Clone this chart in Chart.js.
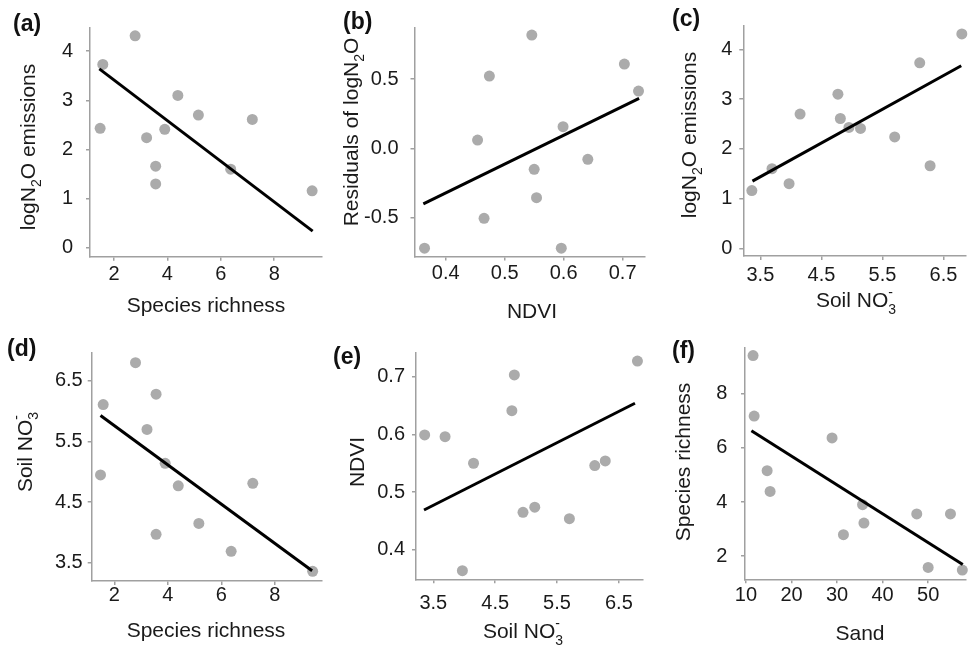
<!DOCTYPE html>
<html>
<head>
<meta charset="utf-8">
<script src="https://cdn.jsdelivr.net/npm/chart.js@4.4.1/dist/chart.umd.min.js"></script>
<style>
html, body { margin: 0; padding: 0; background: #fff; overflow: hidden; }
#wrap { position: relative; width: 971px; height: 646px; }
canvas { position: absolute; left: 0; top: 0; }
</style>
</head>
<body>
<div id="wrap"></div>
<script>
// values for the 12 sites
const species  = [1.48, 1.58, 2.79, 3.22, 3.56, 3.56, 3.90, 4.39, 5.16, 6.37, 7.18, 9.42];
const logN2O   = [2.43, 3.73, 4.31, 2.24, 1.66, 1.30, 2.41, 3.10, 2.70, 1.60, 2.61, 1.16];
const soilNO3  = [4.95, 6.11, 6.80, 5.70, 6.28, 3.97, 5.14, 4.77, 4.15, 3.69, 4.81, 3.36];
const ndvi     = [0.465, 0.546, 0.727, 0.454, 0.554, 0.364, 0.474, 0.641, 0.550, 0.596, 0.703, 0.599];
const residN2O = [-0.505, 0.817, 0.413, 0.06, -0.356, -0.72, 0.521, -0.079, -0.151, -0.72, 0.608, 0.156];
const sand     = [57.5, 50.0, 31.4, 35.9, 47.5, 54.9, 35.6, 15.3, 14.65, 28.9, 11.8, 11.56];

// fitted lines (start, end)
const fitA = [{x: 1.45, y: 3.64}, {x: 9.44, y: 0.34}];
const fitB = [{x: 0.362, y: -0.40}, {x: 0.728, y: 0.36}];
const fitC = [{x: 3.37, y: 1.35}, {x: 6.79, y: 3.67}];
const fitD = [{x: 1.48, y: 5.93}, {x: 9.40, y: 3.37}];
const fitE = [{x: 3.35, y: 0.469}, {x: 6.76, y: 0.654}];
const fitF = [{x: 11.2, y: 6.64}, {x: 57.6, y: 1.69}];

// ticks
const speciesTicks = [2, 4, 6, 8];
const speciesLabels = ['2', '4', '6', '8'];
const n2oTicks = [0, 1, 2, 3, 4];
const n2oLabels = ['0', '1', '2', '3', '4'];
const ndviXTicks = [0.4, 0.5, 0.6, 0.7];
const ndviXLabels = ['0.4', '0.5', '0.6', '0.7'];
const residTicks = [-0.5, 0, 0.5];
const residLabels = ['-0.5', '0.0', '0.5'];
const no3Ticks = [3.5, 4.5, 5.5, 6.5];
const no3Labels = ['3.5', '4.5', '5.5', '6.5'];
const ndviYTicks = [0.4, 0.5, 0.6, 0.7];
const ndviYLabels = ['0.4', '0.5', '0.6', '0.7'];
const sandTicks = [10, 20, 30, 40, 50];
const sandLabels = ['10', '20', '30', '40', '50'];
const richTicks = [2, 4, 6, 8];
const richLabels = ['2', '4', '6', '8'];

const W = 971, H = 646;
const FONT = '"Liberation Sans", Arial, sans-serif';
const AXIS = '#a0a0a0';
const DOT = '#ababab';

const tN2O = ['logN', {sub: '2'}, 'O emissions'];
const tNO3 = ['Soil NO', {sub: '3', sup: '-'}];

const panels = [
  {tag: '(a)', tagAt: [13, 31], xs: species, ys: logN2O, fit: fitA,
   area: [90, 28, 322, 256.7], xr: [1.10, 9.79], yr: [-0.18, 4.47],
   xt: speciesTicks, xl: speciesLabels, yt: n2oTicks, yl: n2oLabels, xPad: 2, yPad: 13,
   xTitle: ['Species richness'], xTitleAt: [206, 312], yTitle: tN2O, yTitleAt: [27, 147]},
  {tag: '(b)', tagAt: [343, 29], xs: ndvi, ys: residN2O, fit: fitB,
   area: [414.5, 28, 645, 256.5], xr: [0.347, 0.738], yr: [-0.78, 0.868],
   xt: ndviXTicks, xl: ndviXLabels, yt: residTicks, yl: residLabels, xPad: 1, yPad: 12,
   xTitle: ['NDVI'], xTitleAt: [532, 318], yTitle: ['Residuals of logN', {sub: '2'}, 'O'], yTitleAt: [350, 132]},
  {tag: '(c)', tagAt: [672, 26], xs: soilNO3, ys: logN2O, fit: fitC,
   area: [743.3, 26, 971, 256], xr: [3.22, 6.86], yr: [-0.155, 4.47],
   xt: no3Ticks, xl: no3Labels, yt: n2oTicks, yl: n2oLabels, xPad: 3, yPad: 7,
   xTitle: tNO3, xTitleAt: [856, 307], yTitle: tN2O, yTitleAt: [688, 135]},
  {tag: '(d)', tagAt: [7, 356], xs: species, ys: soilNO3, fit: fitD,
   area: [91.7, 353, 322, 581], xr: [1.15, 9.77], yr: [3.20, 6.96],
   xt: speciesTicks, xl: speciesLabels, yt: no3Ticks, yl: no3Labels, xPad: -2, yPad: 5,
   xTitle: ['Species richness'], xTitleAt: [206, 637], yTitle: tNO3, yTitleAt: [24, 452]},
  {tag: '(e)', tagAt: [333, 364], xs: soilNO3, ys: ndvi, fit: fitE,
   area: [416, 353, 643, 579.3], xr: [3.22, 6.89], yr: [0.349, 0.741],
   xt: no3Ticks, xl: no3Labels, yt: ndviYTicks, yl: ndviYLabels, xPad: 7.7, yPad: 7,
   xTitle: tNO3, xTitleAt: [523, 638], yTitle: ['NDVI'], yTitleAt: [356.7, 462]},
  {tag: '(f)', tagAt: [672, 358], xs: sand, ys: species, fit: fitF,
   area: [745, 348, 971, 579.3], xr: [9.79, 58.2], yr: [1.14, 9.70],
   xt: sandTicks, xl: sandLabels, yt: richTicks, yl: richLabels, xPad: 0, yPad: 13.7,
   xTitle: ['Sand'], xTitleAt: [860, 640], yTitle: ['Species richness'], yTitleAt: [682.5, 462]}
];

// draws text with sub/superscripts, centred on x; y is the baseline (or cap centre when rotated)
function drawRich(ctx, parts, size, x, y, rotate) {
  const main = size + 'px ' + FONT;
  const small = Math.round(size * 0.68) + 'px ' + FONT;
  const widths = parts.map(p => {
    if (typeof p === 'string') { ctx.font = main; return ctx.measureText(p).width; }
    ctx.font = small;
    return Math.max(p.sub ? ctx.measureText(p.sub).width : 0, p.sup ? ctx.measureText(p.sup).width : 0);
  });
  const total = widths.reduce((a, b) => a + b, 0);
  ctx.save();
  ctx.translate(x, y);
  if (rotate) {
    ctx.rotate(-Math.PI / 2);
    ctx.translate(0, size * 0.358);
  }
  ctx.fillStyle = '#1a1a1a';
  ctx.textAlign = 'left';
  ctx.textBaseline = 'alphabetic';
  let cx = -total / 2;
  parts.forEach((p, i) => {
    if (typeof p === 'string') {
      ctx.font = main;
      ctx.fillText(p, cx, 0);
    } else {
      ctx.font = small;
      if (p.sub) ctx.fillText(p.sub, cx, size * 0.32);
      if (p.sup) ctx.fillText(p.sup, cx, -size * 0.48);
    }
    cx += widths[i];
  });
  ctx.restore();
}

// the axis boxes take the whole margin so their labels are not clipped
function axisOpts(range, vals, labels, pad, size, isX) {
  return {
    type: 'linear',
    min: range[0],
    max: range[1],
    afterBuildTicks: s => { s.ticks = vals.map(v => ({value: v})); },
    afterFit: s => { if (isX) s.height = size; else s.width = size; },
    border: {display: true, color: AXIS, width: 1.5},
    grid: {display: true, drawOnChartArea: false, drawTicks: true, tickLength: 4, color: AXIS, lineWidth: 1.5},
    ticks: {
      autoSkip: false,
      maxRotation: 0,
      padding: pad,
      color: '#1a1a1a',
      font: {family: FONT, size: 20},
      callback: (v, i) => labels[i]
    }
  };
}

const wrap = document.getElementById('wrap');
panels.forEach(p => {
  const cv = document.createElement('canvas');
  cv.width = W; cv.height = H;
  cv.style.width = W + 'px'; cv.style.height = H + 'px';
  wrap.appendChild(cv);

  const titles = {
    id: 'titles',
    afterDraw(chart) {
      const ctx = chart.ctx;
      drawRich(ctx, p.xTitle, 21, p.xTitleAt[0], p.xTitleAt[1], false);
      drawRich(ctx, p.yTitle, 21, p.yTitleAt[0], p.yTitleAt[1], true);
      ctx.save();
      ctx.font = 'bold 23px ' + FONT;
      ctx.fillStyle = '#111';
      ctx.textBaseline = 'alphabetic';
      ctx.fillText(p.tag, p.tagAt[0], p.tagAt[1]);
      ctx.restore();
    }
  };

  new Chart(cv, {
    type: 'scatter',
    data: {
      datasets: [
        {
          data: p.xs.map((v, i) => ({x: v, y: p.ys[i]})),
          backgroundColor: DOT,
          borderWidth: 0,
          pointRadius: 5.5,
          clip: false,
          order: 2
        },
        {
          type: 'line',
          data: p.fit,
          borderColor: '#000',
          borderWidth: 3,
          pointRadius: 0,
          fill: false,
          clip: false,
          order: 1
        }
      ]
    },
    options: {
      responsive: false,
      animation: false,
      devicePixelRatio: 1,
      layout: {padding: {left: 0, top: p.area[1], right: W - p.area[2], bottom: 0}},
      plugins: {legend: {display: false}, tooltip: {enabled: false}},
      scales: {
        x: axisOpts(p.xr, p.xt, p.xl, p.xPad, H - p.area[3], true),
        y: axisOpts(p.yr, p.yt, p.yl, p.yPad, p.area[0], false)
      }
    },
    plugins: [titles]
  });
});
</script>
</body>
</html>
